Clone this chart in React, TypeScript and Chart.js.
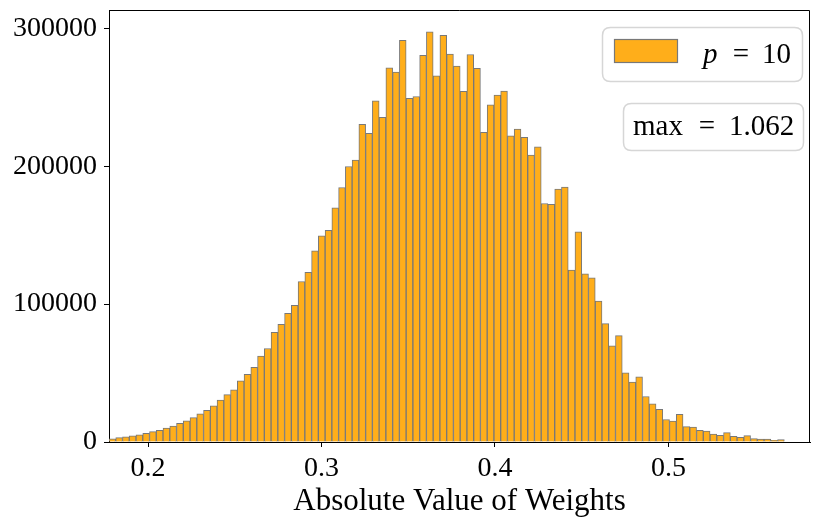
import React, { useEffect, useRef } from 'react';
import { Chart, registerables } from 'chart.js';
Chart.register(...registerables);

// Histogram bins (100 equal-width bins)
const BIN_START = 0.1775;
const BIN_WIDTH = 0.003893;
const COUNTS = [
  2300, 3200, 3800, 4500, 5200, 6300, 7500, 8500, 10100, 11500,
  13500, 15400, 17700, 20400, 23000, 26300, 30400, 34300, 37900, 44400,
  49000, 54100, 62300, 67800, 79500, 85300, 93400, 99200, 116400, 123100,
  138600, 149500, 153600, 169800, 184600, 199800, 204400, 230300, 223800, 247500,
  235400, 271400, 268300, 291300, 249200, 250600, 280400, 297500, 265600, 294900,
  281300, 272600, 254300, 281000, 271000, 224500, 244600, 251600, 254500, 222100,
  226900, 220900, 208100, 214100, 173000, 172300, 183400, 184800, 124600, 152400,
  121900, 119000, 102200, 85800, 69800, 77200, 50200, 43400, 47200, 33000,
  27600, 23700, 16300, 15200, 20100, 11200, 10900, 8500, 8000, 5800,
  4900, 6800, 4100, 3400, 4600, 2500, 2200, 2200, 1200, 1700,
];
const X_TICKS = [0.2, 0.3, 0.4, 0.5];
const X_TICK_LABELS = ['0.2', '0.3', '0.4', '0.5'];
const Y_TICKS = [0, 100000, 200000, 300000];
const Y_TICK_LABELS = ['0', '100000', '200000', '300000'];
const X_MIN = 0.1775;
const X_MAX = 0.5816;
const Y_MAX = 313300;
const X_TITLE = 'Absolute Value of Weights';
const LEGEND_PARTS = ['p', '=', '10'];
const MAX_PARTS = ['max', '=', '1.062'];

const FILL = '#FFAE1A';
const EDGE = '#787878';
const FONT = '"Liberation Serif", "Times New Roman", serif';

function roundRect(ctx: CanvasRenderingContext2D, x: number, y: number, w: number, h: number, r: number) {
  ctx.beginPath();
  ctx.moveTo(x + r, y);
  ctx.lineTo(x + w - r, y);
  ctx.quadraticCurveTo(x + w, y, x + w, y + r);
  ctx.lineTo(x + w, y + h - r);
  ctx.quadraticCurveTo(x + w, y + h, x + w - r, y + h);
  ctx.lineTo(x + r, y + h);
  ctx.quadraticCurveTo(x, y + h, x, y + h - r);
  ctx.lineTo(x, y + r);
  ctx.quadraticCurveTo(x, y, x + r, y);
  ctx.closePath();
}

const overlayPlugin = {
  id: 'overlay',
  afterDraw(chart: any) {
    const { ctx, chartArea: a } = chart;
    ctx.save();
    // top & right spines
    ctx.strokeStyle = '#000';
    ctx.lineWidth = 1;
    ctx.beginPath();
    const t = Math.round(a.top) + 0.5;
    const r = Math.round(a.right) - 0.5;
    ctx.moveTo(Math.round(a.left), t);
    ctx.lineTo(r, t);
    ctx.lineTo(r, Math.round(a.bottom));
    ctx.stroke();

    // legend box
    const b1x = a.right - 208, b1y = a.top + 17;
    roundRect(ctx, b1x + 0.5, b1y + 0.5, 200, 54, 8);
    ctx.fillStyle = 'rgba(255,255,255,0.85)';
    ctx.fill();
    ctx.strokeStyle = '#d6d6d6';
    ctx.lineWidth = 1.5;
    ctx.stroke();
    // swatch
    ctx.fillStyle = FILL;
    ctx.fillRect(b1x + 12, b1y + 12, 64, 24);
    ctx.strokeStyle = EDGE;
    ctx.lineWidth = 1.2;
    ctx.strokeRect(b1x + 12.5, b1y + 12.5, 63, 23);

    ctx.fillStyle = '#000';
    ctx.textBaseline = 'alphabetic';
    const base1 = b1y + 36;
    ctx.font = 'italic 29px ' + FONT;
    ctx.textAlign = 'left';
    ctx.fillText(LEGEND_PARTS[0], b1x + 101, base1);
    ctx.font = '29px ' + FONT;
    ctx.textAlign = 'center';
    ctx.fillText(LEGEND_PARTS[1], b1x + 139, base1);
    ctx.textAlign = 'left';
    ctx.fillText(LEGEND_PARTS[2], b1x + 160, base1);

    // max box
    const b2x = a.right - 187, b2y = a.top + 93;
    roundRect(ctx, b2x + 0.5, b2y + 0.5, 180, 47, 8);
    ctx.fillStyle = 'rgba(255,255,255,0.85)';
    ctx.fill();
    ctx.strokeStyle = '#d6d6d6';
    ctx.lineWidth = 1.5;
    ctx.stroke();
    ctx.fillStyle = '#000';
    const base2 = b2y + 32;
    ctx.font = '29px ' + FONT;
    ctx.textAlign = 'left';
    ctx.fillText(MAX_PARTS[0], b2x + 10, base2);
    ctx.textAlign = 'center';
    ctx.fillText(MAX_PARTS[1], b2x + 84, base2);
    ctx.textAlign = 'left';
    ctx.fillText(MAX_PARTS[2], b2x + 106, base2);
    ctx.restore();
  },
};

export default function App() {
  const ref = useRef<HTMLCanvasElement>(null);
  useEffect(() => {
    if (!ref.current) return;
    const data = COUNTS.map((c, i) => ({ x: BIN_START + (i + 0.5) * BIN_WIDTH, y: c }));
    const chart = new Chart(ref.current, {
      type: 'bar',
      data: {
        datasets: [
          {
            label: 'p = 10',
            data: data as any,
            backgroundColor: FILL,
            borderColor: EDGE,
            borderWidth: 1,
            borderSkipped: 'start',
            barPercentage: 1,
            categoryPercentage: 1,
          },
        ],
      },
      options: {
        responsive: false,
        animation: false,
        devicePixelRatio: 1,
        layout: { padding: { left: 0, right: 20, top: 10, bottom: 0 } },
        plugins: { legend: { display: false }, tooltip: { enabled: false } },
        scales: {
          x: {
            type: 'linear',
            min: X_MIN,
            max: X_MAX,
            offset: false,
            afterBuildTicks: (s: any) => {
              s.ticks = X_TICKS.map((v) => ({ value: v }));
            },
            afterFit: (s: any) => {
              s.height = 86;
              s.paddingLeft = 0;
              s.paddingRight = 0;
            },
            ticks: {
              callback: (v: any) => {
                const i = X_TICKS.findIndex((t) => Math.abs(t - v) < 1e-9);
                return i >= 0 ? X_TICK_LABELS[i] : '';
              },
              font: { family: FONT, size: 28 },
              color: '#000',
              padding: 5,
              maxRotation: 0,
            },
            grid: {
              display: true,
              drawOnChartArea: false,
              drawTicks: true,
              tickLength: 5,
              tickWidth: 1,
              color: '#000',
              offset: false,
            },
            border: { display: true, color: '#000', width: 1 },
            title: {
              display: true,
              text: X_TITLE,
              font: { family: FONT, size: 31 },
              color: '#000',
              padding: { top: 0, bottom: 8 },
            },
          },
          y: {
            type: 'linear',
            min: 0,
            max: Y_MAX,
            afterBuildTicks: (s: any) => {
              s.ticks = Y_TICKS.map((v) => ({ value: v }));
            },
            afterFit: (s: any) => {
              s.width = 109;
              s.paddingTop = 0;
              s.paddingBottom = 0;
            },
            ticks: {
              callback: (v: any) => {
                const i = Y_TICKS.indexOf(v);
                return i >= 0 ? Y_TICK_LABELS[i] : '';
              },
              font: { family: FONT, size: 28 },
              color: '#000',
              padding: 7,
            },
            grid: {
              display: true,
              drawOnChartArea: false,
              drawTicks: true,
              tickLength: 5,
              tickWidth: 1,
              color: '#000',
            },
            border: { display: true, color: '#000', width: 1 },
          },
        },
      },
      plugins: [overlayPlugin],
    });
    return () => chart.destroy();
  }, []);
  return (
    <div style={{ position: 'fixed', left: 0, top: 0, width: 830, height: 528, background: '#fff' }}>
      <canvas ref={ref} width={830} height={528} style={{ width: 830, height: 528, display: 'block' }} />
    </div>
  );
}
